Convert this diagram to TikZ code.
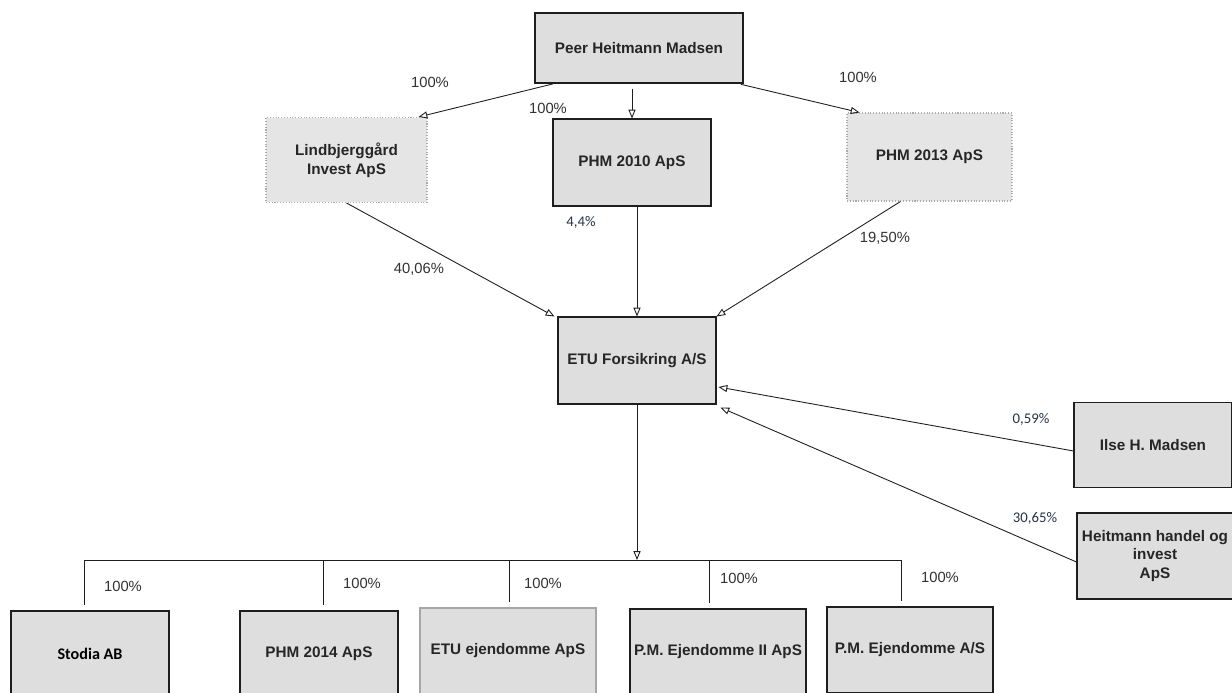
\documentclass[tikz,border=0pt]{standalone}
\usepackage{fontspec}
\setmainfont{Liberation Sans}
\newfontfamily\calibrifont{Carlito}
\usetikzlibrary{arrows.meta}
\definecolor{inkline}{HTML}{1E1E1E}
\definecolor{boxfill}{HTML}{DEDEDE}
\definecolor{navytext}{HTML}{27324A}
\tikzset{
  company/.style={draw=inkline, fill=boxfill, line width=0.6pt, inner sep=1pt, align=center,
    font=\fontsize{8.7}{10.6}\selectfont\bfseries, text=black!85},
  faint/.style={draw=gray!65, densely dotted, fill=boxfill!80},
  share/.style={font=\fontsize{8.4}{10}\selectfont, text=black!80},
  smallshare/.style={font=\calibrifont\fontsize{8.4}{10}\selectfont, text=navytext},
  own/.style={draw=inkline, line width=0.5pt, -{Triangle[open,length=5pt,width=4pt]}},
  link/.style={draw=inkline, line width=0.5pt}
}
\begin{document}
\begin{tikzpicture}[x=0.02cm, y=-0.02cm]
\useasboundingbox[fill=white] (0,0) rectangle (1232,693);
% top: owner and holding companies
\node[company, minimum width=4.16cm, minimum height=1.40cm] (peer) at (639,48) {Peer Heitmann Madsen};
\node[company, faint, minimum width=3.22cm, minimum height=1.70cm] (lind) at (346.5,160) {Lindbjerggård\\Invest ApS};
\node[company, minimum width=3.16cm, minimum height=1.74cm] (phm10) at (632,162.5) {PHM 2010 ApS};
\node[company, faint, minimum width=3.30cm, minimum height=1.76cm] (phm13) at (929.5,157) {PHM 2013 ApS};
% middle
\node[company, minimum width=3.16cm, minimum height=1.74cm] (etu) at (637,360.5) {ETU Forsikring A/S};
\node[company, minimum width=3.16cm, minimum height=1.70cm] (ilse) at (1153,445) {Ilse H. Madsen};
\node[company, minimum width=3.12cm, minimum height=1.72cm] (heit) at (1155,556) {Heitmann handel og\\invest\\ApS};
% subsidiaries
\node[company, minimum width=3.16cm, minimum height=1.72cm, font=\calibrifont\fontsize{9.2}{11}\selectfont\bfseries, text=black] (stodia) at (90,654) {Stodia AB};
\node[company, minimum width=3.16cm, minimum height=1.72cm] (phm14) at (319,654) {PHM 2014 ApS};
\node[company, draw=gray!70, minimum width=3.52cm, minimum height=1.72cm] (etuej) at (508,651) {ETU ejendomme ApS};
\node[company, minimum width=3.52cm, minimum height=1.72cm] (pme2) at (718,652) {P.M. Ejendomme II ApS};
\node[company, minimum width=3.32cm, minimum height=1.72cm] (pmeas) at (910,650) {P.M. Ejendomme A/S};

% ownership arrows
\draw[own, shorten <=1pt] ([xshift=0.4cm]peer.south west) -- ([xshift=-0.18cm]lind.north east);
\draw[own, shorten <=3pt] (peer.south -| phm10.north) -- (phm10.north);
\draw[own, shorten <=2pt] ([xshift=-0.12cm]peer.south east) -- ([xshift=0.26cm]phm13.north west);
\draw[own] (lind.south) -- ([xshift=-0.06cm]etu.north west);
\draw[own] (phm10.south -| etu.north) -- (etu.north);
\draw[own] ([xshift=-0.58cm]phm13.south) -- (etu.north east);
\draw[own] ([yshift=-0.12cm]ilse.west) -- ([shift={(0.04cm,-0.53cm)}]etu.east);
\draw[own] ([yshift=-0.12cm]heit.west) -- ([shift={(0.08cm,-0.06cm)}]etu.south east);

% percentages
\node[share] (pct-lind) at (430,82) {100\%};
\node[share] (pct-phm10) at (548,108) {100\%};
\node[share] (pct-phm13) at (858,77) {100\%};
\node[share] (pct-etu1) at (419,269) {40,06\%};
\node[smallshare] (pct-etu2) at (581,222) {4,4\%};
\node[share] (pct-etu3) at (885,238) {19,50\%};
\node[smallshare] (pct-ilse) at (1031,419) {0,59\%};
\node[smallshare] (pct-heit) at (1035,518) {30,65\%};

% bus to subsidiaries
\coordinate (busL) at (84,560);
\coordinate (busR) at (901,560);
\draw[link] (busL) -- (busR);
\draw[own] (etu.south) -- (etu.south |- busL);
\foreach \bx/\sub/\lx/\ly [count=\i] in {84/stodia/123/586, 323/phm14/362/583, 509/etuej/543/583, 709/pme2/739/578, 901/pmeas/940/577}{
  \coordinate (bus\i) at (\bx,560);
  \draw[link, shorten >=3pt] (bus\i) -- (bus\i |- \sub.north);
  \node[share] (sub\i) at (\lx,\ly) {100\%};
}
\end{tikzpicture}
\end{document}
